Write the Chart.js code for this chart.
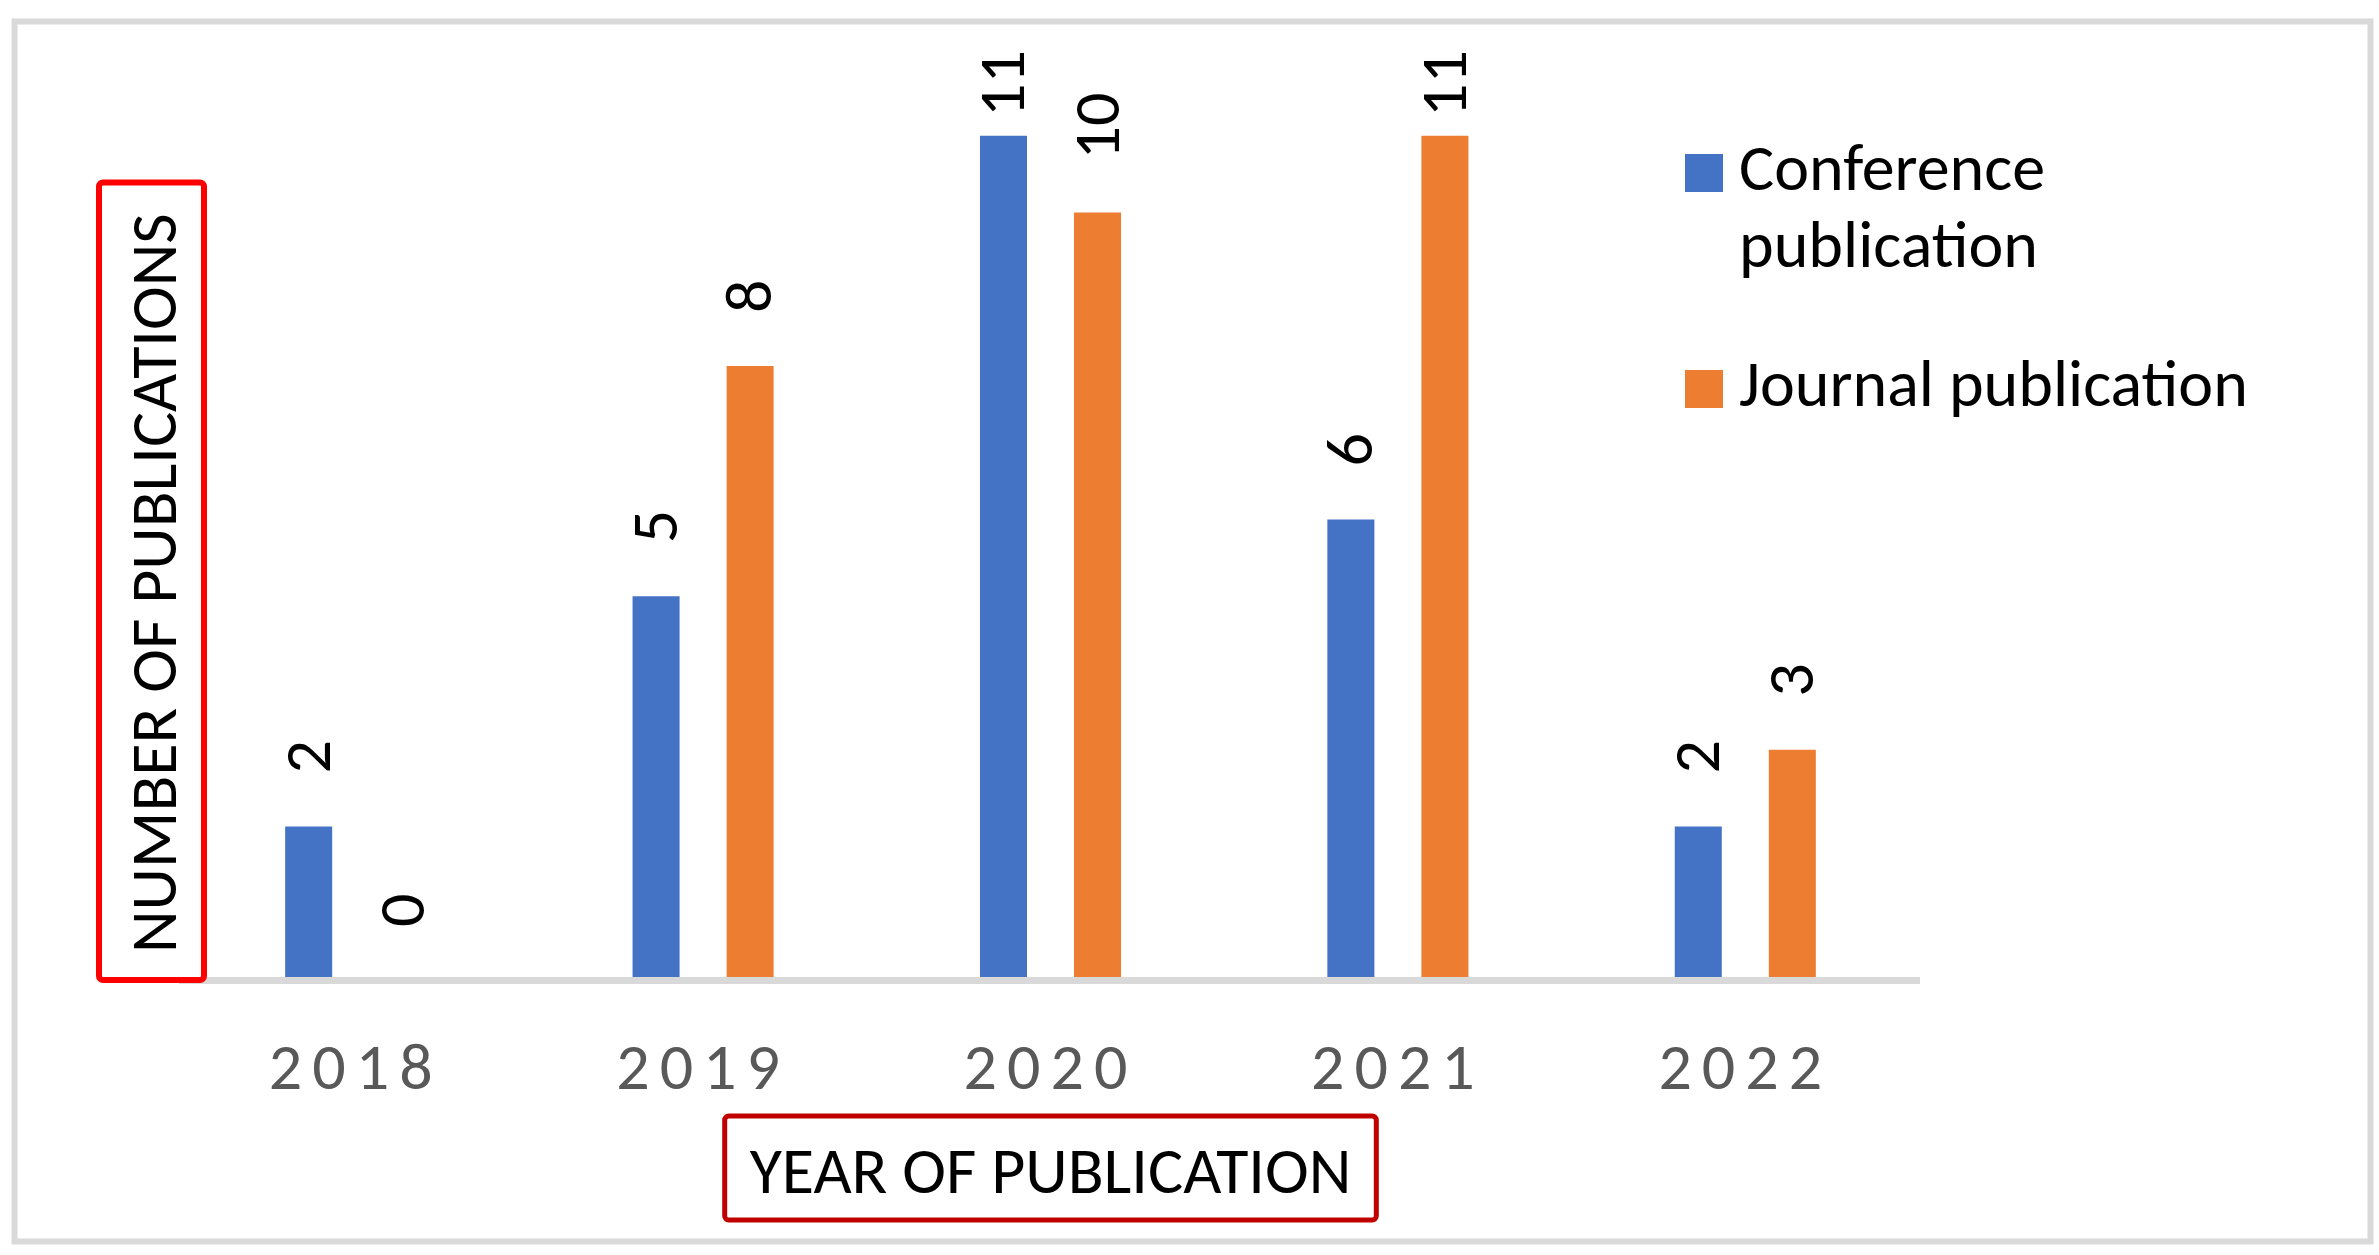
<!DOCTYPE html>
<html>
<head>
<meta charset="utf-8">
<script src="https://cdn.jsdelivr.net/npm/chart.js@4.4.1/dist/chart.umd.min.js"></script>
<style>
  body { margin: 0; background: #fff; }
</style>
</head>
<body>
<canvas id="pubChart" width="2379" height="1255"></canvas>
<script>
// data
const years = ["2018", "2019", "2020", "2021", "2022"];
const conferenceCounts = [2, 5, 11, 6, 2];
const journalCounts = [0, 8, 10, 11, 3];
const conferenceLabel = ["Conference", "publication"]; // two lines in the legend
const journalLabel = "Journal publication";
const xTitle = "YEAR OF PUBLICATION";
const yTitle = "NUMBER OF PUBLICATIONS";
const seriesColors = ["#4472C4", "#ED7D31"];

const FONT = "Carlito, Calibri, 'Liberation Sans', sans-serif";
const TEXT_SIZE = 66;

// x axis with spaced out year labels (like the excel export)
class SpacedCategoryScale extends Chart.CategoryScale {
  drawLabels(area) {
    const ctx = this.ctx;
    ctx.save();
    ctx.letterSpacing = "10px";
    super.drawLabels(area);
    ctx.restore();
  }
}
SpacedCategoryScale.id = "spacedCategory";
SpacedCategoryScale.defaults = {};

// y axis whose title sits a bit higher than the bottom of the plot
const Y_TITLE_SHIFT = 27;
class ShiftedTitleScale extends Chart.LinearScale {
  drawTitle() {
    const ctx = this.ctx;
    ctx.save();
    ctx.translate(0, -Y_TITLE_SHIFT);
    super.drawTitle();
    ctx.restore();
  }
}
ShiftedTitleScale.id = "shiftedTitleLinear";
ShiftedTitleScale.defaults = {};

Chart.register(SpacedCategoryScale, ShiftedTitleScale);

// square legend swatch, used as point style so the text can sit close to it
function swatch(color) {
  const c = document.createElement("canvas");
  c.width = 38;
  c.height = 38;
  const g = c.getContext("2d");
  g.fillStyle = color;
  g.fillRect(0, 0, 38, 38);
  return c;
}
const swatches = seriesColors.map(swatch);

/* grey frame round the whole picture */
const frame = {
  id: "frame",
  beforeDraw(chart) {
    const ctx = chart.ctx;
    ctx.save();
    ctx.fillStyle = "#fff";
    ctx.fillRect(0, 0, chart.width, chart.height);
    ctx.strokeStyle = "#d9d9d9";
    ctx.lineWidth = 6;
    ctx.strokeRect(14.5, 21.5, chart.width - 23, chart.height - 35);
    ctx.restore();
  },
};

/* rotated value above every bar */
const valueLabels = {
  id: "valueLabels",
  afterDatasetsDraw(chart) {
    const ctx = chart.ctx;
    const minTop = chart.chartArea.top - 9;
    ctx.save();
    ctx.font = `${TEXT_SIZE}px ${FONT}`;
    ctx.fillStyle = "#000";
    ctx.textAlign = "left";
    ctx.textBaseline = "alphabetic";
    chart.data.datasets.forEach((ds, di) => {
      chart.getDatasetMeta(di).data.forEach((bar, i) => {
        const txt = String(ds.data[i]);
        const w = ctx.measureText(txt).width;
        let start = bar.y - 53;
        if (start - w < minTop) start = minTop + w;
        ctx.save();
        ctx.translate(bar.x + 21, start);
        ctx.rotate(-Math.PI / 2);
        ctx.fillText(txt, 0, 0);
        ctx.restore();
      });
    });
    ctx.restore();
  },
};

/* red boxes round the axis titles */
const titleBoxes = {
  id: "titleBoxes",
  afterDraw(chart) {
    const ctx = chart.ctx;
    const area = chart.chartArea;
    const xs = chart.scales.x;
    const ys = chart.scales.y;
    ctx.save();
    ctx.font = `${TEXT_SIZE}px ${FONT}`;

    const xw = ctx.measureText(xTitle).width;
    const xcx = (area.left + area.right) / 2;
    const xcy = xs.bottom - xs.options.title.padding.bottom - TEXT_SIZE / 2 - 8;
    ctx.strokeStyle = "#c00000";
    ctx.lineWidth = 5;
    ctx.beginPath();
    ctx.roundRect(xcx - xw / 2 - 25, xcy - 52, xw + 50, 104, 4);
    ctx.stroke();

    const yw = ctx.measureText(yTitle).width;
    const ycx = ys.left + TEXT_SIZE / 2 - 7.5;
    const yBottom = area.bottom - Y_TITLE_SHIFT;
    ctx.strokeStyle = "#ff0000";
    ctx.lineWidth = 6;
    ctx.beginPath();
    ctx.roundRect(ycx - 52.5, yBottom - yw - 31, 105, yw + 31 + 27, 4);
    ctx.stroke();
    ctx.restore();
  },
};

/* legend sits inside the plot, top right */
const legendPlacer = {
  id: "legendPlacer",
  afterLayout(chart) {
    const lg = chart.legend;
    if (!lg) return;
    const w = lg.width;
    const h = lg.height;
    lg.left = 1640;
    lg.top = 78;
    lg.right = lg.left + w;
    lg.bottom = lg.top + h;
  },
};

const config = {
  type: "bar",
  data: {
    labels: years,
    datasets: [
      {
        label: conferenceLabel,
        data: conferenceCounts,
        backgroundColor: seriesColors[0],
        categoryPercentage: 0.5415,
        barPercentage: 0.5,
      },
      {
        label: journalLabel,
        data: journalCounts,
        backgroundColor: seriesColors[1],
        categoryPercentage: 0.5415,
        barPercentage: 0.5,
      },
    ],
  },
  options: {
    responsive: false,
    animation: false,
    devicePixelRatio: 1,
    layout: {
      padding: { left: 126, right: 460, top: 59, bottom: 0 },
    },
    plugins: {
      tooltip: { enabled: false },
      legend: {
        position: "chartArea",
        align: "start",
        labels: {
          usePointStyle: true,
          pointStyleWidth: 4,
          boxHeight: 38,
          padding: 62,
          color: "#000",
          font: { family: FONT, size: TEXT_SIZE, lineHeight: 1.17 },
          generateLabels: (chart) => {
            const items = Chart.defaults.plugins.legend.labels.generateLabels(chart);
            items.forEach((item) => {
              item.pointStyle = swatches[item.datasetIndex];
            });
            return items;
          },
        },
      },
    },
    scales: {
      x: {
        type: "spacedCategory",
        grid: { display: false, drawTicks: false },
        border: { color: "#d9d9d9", width: 7, z: 1 },
        ticks: {
          color: "#595959",
          padding: 59,
          font: { family: FONT, size: TEXT_SIZE, lineHeight: 1 },
        },
        title: {
          display: true,
          text: xTitle,
          color: "#000",
          font: { family: FONT, size: TEXT_SIZE, lineHeight: 1 },
          padding: { top: 0, bottom: 46 },
        },
        afterFit: (scale) => {
          scale.height = 275;
        },
      },
      y: {
        type: "shiftedTitleLinear",
        min: 0,
        max: 12,
        grid: { display: false, drawTicks: false },
        border: { display: false },
        ticks: { display: false },
        title: {
          display: true,
          text: yTitle,
          align: "start",
          color: "#000",
          font: { family: FONT, size: TEXT_SIZE, lineHeight: 1 },
          padding: 0,
        },
        afterFit: (scale) => {
          scale.width = 56;
        },
      },
    },
  },
  plugins: [frame, valueLabels, titleBoxes, legendPlacer],
};

const chart = new Chart(document.getElementById("pubChart"), config);
</script>
</body>
</html>
